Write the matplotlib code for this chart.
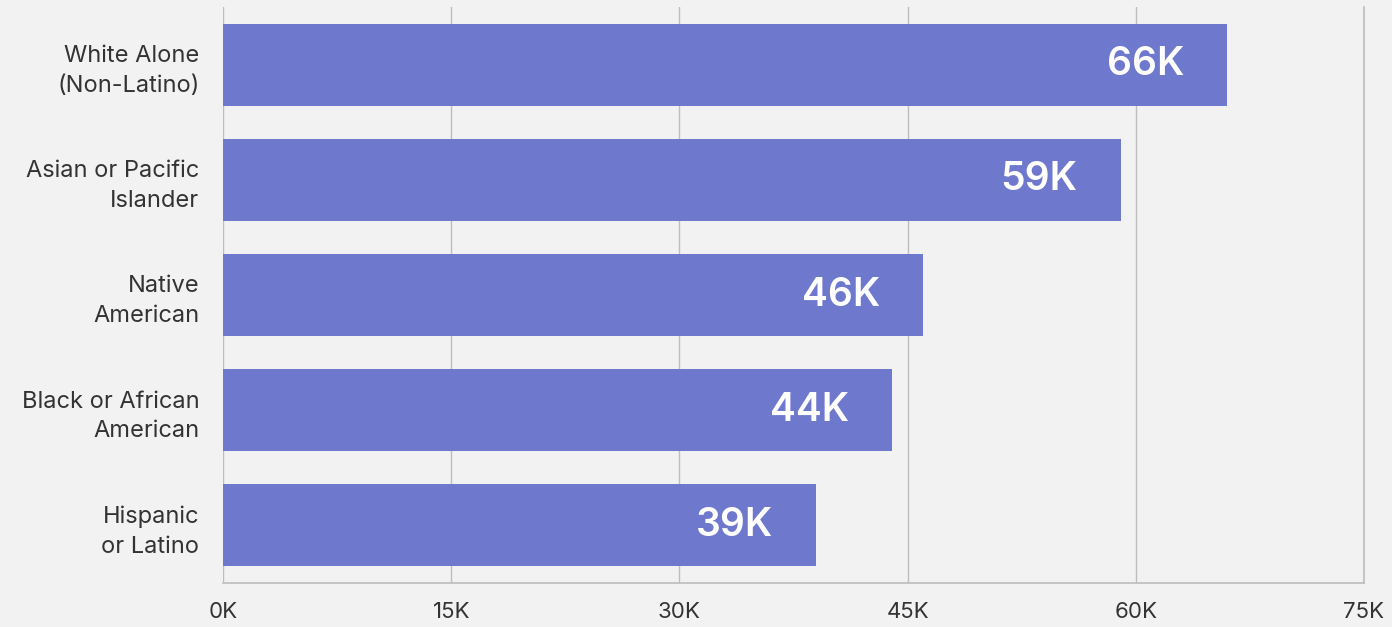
import matplotlib.pyplot as plt
from matplotlib.ticker import FuncFormatter

categories = ['White Alone\n(Non-Latino)', 'Asian or Pacific\nIslander', 'Native\nAmerican',
              'Black or African\nAmerican', 'Hispanic\nor Latino']
values = [66, 59, 46, 44, 39]  # thousands
xticks = [0, 15, 30, 45, 60, 75]

BG = '#f2f2f2'
BAR = '#6e78cc'
GRID = '#bdbdbd'
TXT = '#333333'

plt.rcParams['font.family'] = ['Inter', 'DejaVu Sans']

fig = plt.figure(figsize=(13.92, 6.27), dpi=100, facecolor=BG)
ax = fig.add_axes([223 / 1392, 1 - 583 / 627, (1364 - 223) / 1392, (583 - 7) / 627])
ax.set_facecolor(BG)

ypos = list(range(len(categories)))
ax.barh(ypos, values, height=0.713, color=BAR, zorder=3)

for y, v in zip(ypos, values):
    ax.annotate(f'{v}K', xy=(v, y), xytext=(-31, 0), textcoords='offset points',
                ha='right', va='center', color='white', fontsize=28,
                fontweight='semibold', zorder=4)

ax.set_xlim(0, 75)
ax.set_ylim(len(categories) - 0.5, -0.5)
ax.set_xticks(xticks)
ax.xaxis.set_major_formatter(FuncFormatter(lambda x, p: f'{int(x)}K'))
ax.set_yticks(ypos)
ax.set_yticklabels(categories, linespacing=1.45)
ax.tick_params(axis='x', length=0, pad=14, labelsize=16, labelcolor=TXT)
ax.tick_params(axis='y', length=0, pad=17, labelsize=17, labelcolor=TXT)

ax.grid(axis='x', color=GRID, linewidth=1, zorder=0)
for s in ['top', 'left']:
    ax.spines[s].set_visible(False)
for s in ['bottom', 'right']:
    ax.spines[s].set_color(GRID)
    ax.spines[s].set_linewidth(1.2)

fig.savefig('out.png', dpi=100, facecolor=BG)
